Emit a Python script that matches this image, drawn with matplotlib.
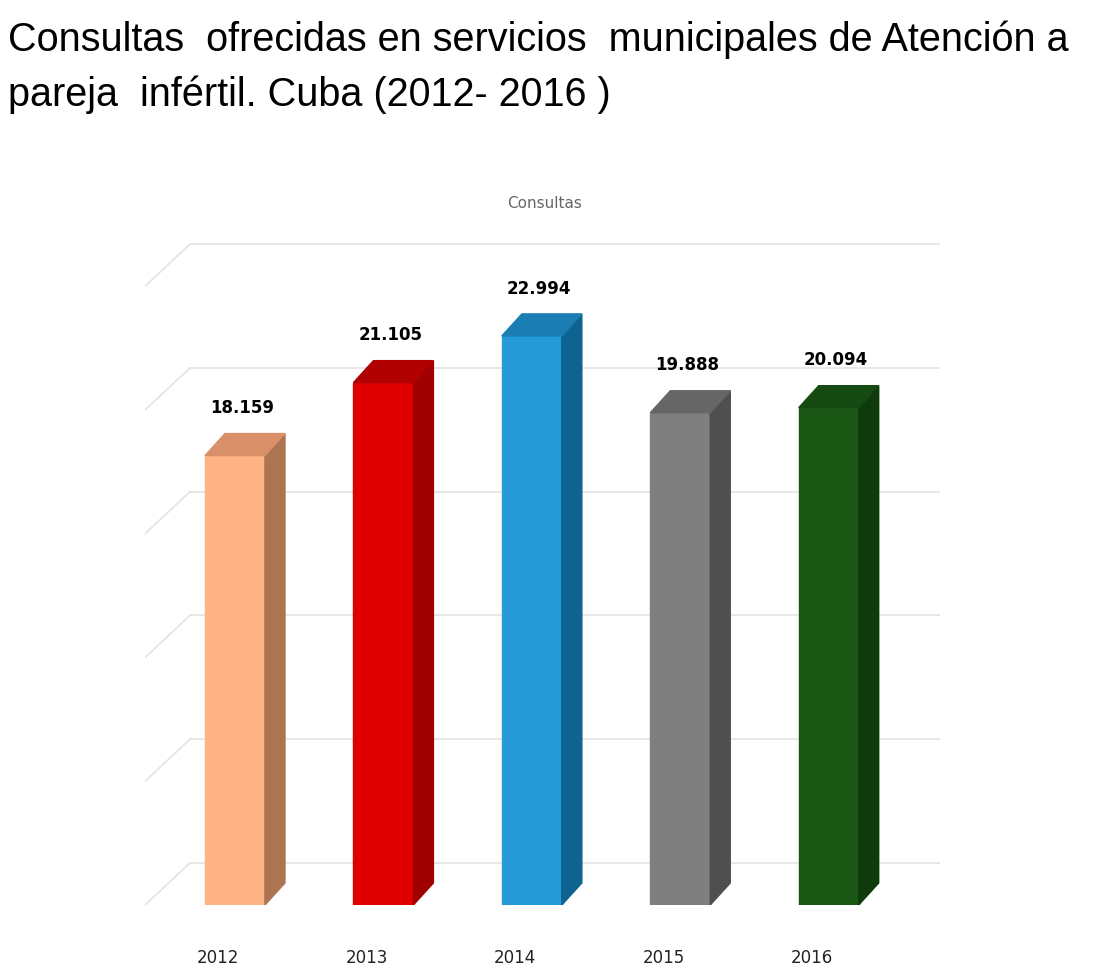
import matplotlib
matplotlib.use("Agg")
import matplotlib.pyplot as plt
from matplotlib.patches import Polygon

years = ["2012", "2013", "2014", "2015", "2016"]
values = [18159, 21105, 22994, 19888, 20094]
labels = ["18.159", "21.105", "22.994", "19.888", "20.094"]
front = ["#FDB383", "#E00000", "#259BD8", "#7F7F7F", "#1B5714"]
side = ["#AD7451", "#A00000", "#0E6391", "#4F4F4F", "#0E3A0C"]
top = ["#D98F68", "#B00000", "#1A7EB5", "#666666", "#154B12"]

W, H = 1100, 980
fig = plt.figure(figsize=(W/100, H/100), dpi=100)
fig.text(8/W, 1-40/H, "Consultas  ofrecidas en servicios  municipales de Atención a", fontsize=28.5, family="Liberation Sans", va="center")
fig.text(8/W, 1-95/H, "pareja  infértil. Cuba (2012- 2016 )", fontsize=28.5, family="Liberation Sans", va="center")

x0, x1 = 145, 940
ytop = 905 - 27*24.75
ax = fig.add_axes([x0/W, 1-905/H, (x1-x0)/W, (905-ytop)/H])
ax.set_xlim(-0.606, 4.75)
ax.set_ylim(0, 27000)
ax.axis("off")

dx, dy, hw = 0.135, 889, 0.202
back = 1697
for v in range(0, 25001, 5000):
    ax.plot([-0.303, 4.75], [v+back, v+back], color="#E3E3E3", lw=1.2, zorder=0)
    ax.plot([-0.606, -0.303], [v, v+back], color="#E3E3E3", lw=1.2, zorder=0)

for i, v in enumerate(values):
    l, r = i-hw, i+hw
    ax.add_patch(Polygon([(l, 0), (r, 0), (r, v), (l, v)], color=front[i], zorder=2))
    ax.add_patch(Polygon([(r, 0), (r+dx, dy), (r+dx, v+dy), (r, v)], color=side[i], zorder=2))
    ax.add_patch(Polygon([(l, v), (r, v), (r+dx, v+dy), (l+dx, v+dy)], color=top[i], zorder=2))
    ax.text(i+0.05, v+1550, labels[i], ha="center", va="bottom", fontsize=12, fontweight="bold",
            family="Liberation Sans Narrow")
    fig.text((235+148.5*i-17)/W, 1-958/H, years[i], ha="center", va="center", fontsize=12,
             family="Liberation Sans Narrow", color="#222222")

fig.text(545/W, 1-203/H, "Consultas", ha="center", va="center", fontsize=11,
         family="Liberation Sans Narrow", color="#666666")
fig.savefig("out.png", dpi=100)
